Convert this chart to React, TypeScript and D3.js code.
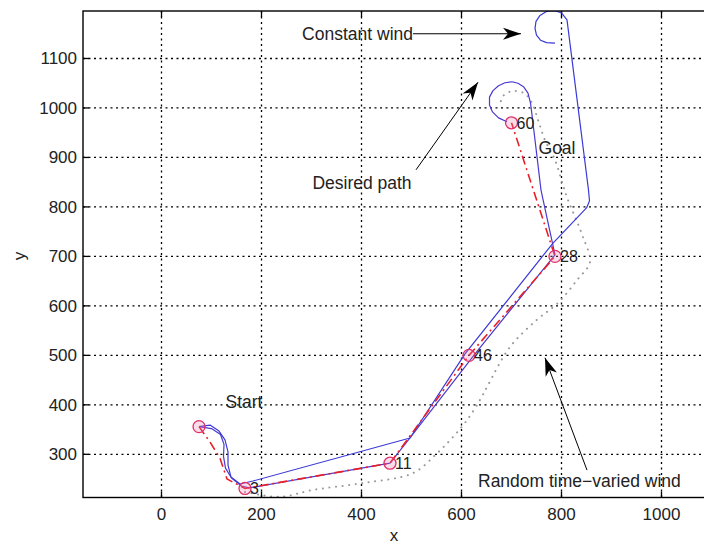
import React from 'react';
import * as d3 from 'd3';

const W = 704;
const H = 544;
const X_DOMAIN: [number, number] = [-157, 1089];
const Y_DOMAIN: [number, number] = [212.7, 1196];
const xTicks = [0, 200, 400, 600, 800, 1000];
const yTicks = [300, 400, 500, 600, 700, 800, 900, 1000, 1100];

// desired path (red dash-dot)
const desiredX = [75, 97, 117, 131, 167, 457, 615, 787, 700];
const desiredY = [356, 325, 292, 250, 231, 282, 500, 700, 970];

// waypoints
const waypointX = [75, 167, 457, 615, 787, 700];
const waypointY = [356, 231, 282, 500, 700, 970];
const waypointLabels = ['', '3', '11', '46', '28', '60'];

// constant wind trajectory (blue)
const constWindX = [75, 97, 115, 127, 133, 133, 139, 157, 183, 497, 607, 783, 850, 856, 854, 811, 800, 786, 770, 757, 749, 747, 750, 758, 770, 787];
const constWindY = [356, 359, 347, 329, 305, 278, 254, 240, 246, 333, 503, 727, 798, 812, 834, 1178, 1192, 1197, 1195, 1187, 1175, 1161, 1147, 1137, 1132, 1131];

// trajectory following desired path (blue)
const trackX = [75, 100, 118, 125, 124, 128, 140, 160, 175, 457, 497, 627, 787, 759, 741, 738, 733, 724, 713, 701, 687, 674, 663, 656, 656, 662, 674, 691];
const trackY = [356, 352, 340, 320, 296, 272, 252, 236, 232, 282, 333, 503, 703, 834, 986, 1010, 1030, 1043, 1050, 1053, 1051, 1045, 1035, 1022, 1006, 992, 980, 972];

// random time-varied wind trajectory (gray dotted)
const randWindX = [167, 237, 303, 403, 503, 551, 583, 611, 637, 653, 697, 751, 793, 831, 857, 843, 827, 813, 803, 787, 767, 753, 741, 725, 701, 683, 677];
const randWindY = [224, 214, 228, 242, 262, 302, 335, 369, 410, 440, 517, 572, 606, 652, 689, 739, 780, 814, 844, 895, 935, 976, 1010, 1030, 1034, 1024, 1006];

const FONT = '"Liberation Sans", Arial, Helvetica, sans-serif';

function zip(xs: number[], ys: number[]): [number, number][] {
  return xs.map((x, i) => [x, ys[i]] as [number, number]);
}

function arrowHead(tx: number, ty: number, fx: number, fy: number) {
  const ang = Math.atan2(ty - fy, tx - fx);
  const L = 18, hw = 6, notch = 5;
  const c = Math.cos(ang), s = Math.sin(ang);
  const bx = tx - L * c, by = ty - L * s;
  const p1 = [bx - hw * s, by + hw * c];
  const p2 = [bx + hw * s, by - hw * c];
  const n = [tx - (L - notch) * c, ty - (L - notch) * s];
  return `M${tx},${ty}L${p1[0]},${p1[1]}L${n[0]},${n[1]}L${p2[0]},${p2[1]}Z`;
}

export default function App() {
  const left = 83, right = 706, top = 11, bottom = 497.5;
  const x = d3.scaleLinear().domain(X_DOMAIN).range([left, right]);
  const y = d3.scaleLinear().domain(Y_DOMAIN).range([bottom, top]);
  const line = d3.line<[number, number]>().x(d => x(d[0])).y(d => y(d[1]));
  const smooth = d3.line<[number, number]>().x(d => x(d[0])).y(d => y(d[1])).curve(d3.curveCatmullRom.alpha(0.5));

  const arrows = [
    { from: [503, 1150], to: [719, 1150] },
    { from: [509, 875], to: [633, 1052] },
    { from: [851, 268], to: [767, 495] },
  ];

  return (
    <svg width={W} height={H} style={{ position: 'absolute', left: 0, top: 0, background: '#fff' }} fontFamily={FONT}>
      <defs>
        <clipPath id="plotclip">
          <rect x={left} y={top} width={right - left} height={bottom - top} />
        </clipPath>
      </defs>
      <rect x={0} y={0} width={W} height={H} fill="#fff" />
      {/* grid */}
      {xTicks.map(t => (
        <line key={'gx' + t} x1={x(t)} x2={x(t)} y1={top} y2={bottom} stroke="#000" strokeWidth={1.3} strokeDasharray="2,3.5" />
      ))}
      {yTicks.map(t => (
        <line key={'gy' + t} x1={left} x2={right} y1={y(t)} y2={y(t)} stroke="#000" strokeWidth={1.3} strokeDasharray="2,3.5" />
      ))}
      {/* ticks */}
      {xTicks.map(t => (
        <g key={'tx' + t}>
          <line x1={x(t)} x2={x(t)} y1={bottom} y2={bottom - 6} stroke="#000" strokeWidth={1.3} />
          <line x1={x(t)} x2={x(t)} y1={top} y2={top + 6} stroke="#000" strokeWidth={1.3} />
          <text x={x(t)} y={bottom + 22} textAnchor="middle" fontSize={17} fill="#222">{t}</text>
        </g>
      ))}
      {yTicks.map(t => (
        <g key={'ty' + t}>
          <line x1={left} x2={left + 6} y1={y(t)} y2={y(t)} stroke="#000" strokeWidth={1.3} />
          <text x={left - 6} y={y(t) + 6} textAnchor="end" fontSize={17} fill="#222">{t}</text>
        </g>
      ))}
      {/* data */}
      <g clipPath="url(#plotclip)">
        <path d={smooth(zip(randWindX, randWindY)) || ''} fill="none" stroke="#999" strokeWidth={2} strokeDasharray="0.1,6.5" strokeLinecap="round" />
        <path d={line(zip(constWindX, constWindY)) || ''} fill="none" stroke="#3a3ad8" strokeWidth={1.2} strokeLinejoin="round" />
        <path d={line(zip(trackX, trackY)) || ''} fill="none" stroke="#4a3ad0" strokeWidth={1.2} strokeLinejoin="round" />
        <path d={line(zip(desiredX, desiredY)) || ''} fill="none" stroke="#e8202a" strokeWidth={1.6} strokeDasharray="9,4,2,4" />
        {waypointX.map((wx, i) => (
          <circle key={'wp' + i} cx={x(wx)} cy={y(waypointY[i])} r={6} fill="rgba(240,120,170,0.25)" stroke="#e0306a" strokeWidth={1.3} />
        ))}
      </g>
      {waypointX.map((wx, i) => (
        <text key={'wl' + i} x={x(wx) + 5} y={y(waypointY[i]) + 6} fontSize={16} fill="#222">{waypointLabels[i]}</text>
      ))}
      {/* axes box */}
      <rect x={left} y={top} width={right - left} height={bottom - top} fill="none" stroke="#000" strokeWidth={1.4} />
      {/* annotations */}
      {arrows.map((a, i) => (
        <g key={'ar' + i}>
          <line x1={x(a.from[0])} y1={y(a.from[1])} x2={x(a.to[0])} y2={y(a.to[1])} stroke="#000" strokeWidth={1} />
          <path d={arrowHead(x(a.to[0]), y(a.to[1]), x(a.from[0]), y(a.from[1]))} fill="#000" />
        </g>
      ))}
      <text x={x(503)} y={y(1150) + 6} textAnchor="end" fontSize={17.5} fill="#222">Constant wind</text>
      <text x={x(401)} y={y(848) + 6} textAnchor="middle" fontSize={17.5} fill="#222">Desired path</text>
      <text x={x(633)} y={y(246) + 6} textAnchor="start" fontSize={17.5} fill="#222">Random time−varied wind</text>
      <text x={x(165)} y={y(406) + 6} textAnchor="middle" fontSize={17.5} fill="#222">Start</text>
      <text x={x(791)} y={y(919) + 6} textAnchor="middle" fontSize={17.5} fill="#222">Goal</text>
      {/* axis labels */}
      <text x={394} y={541} textAnchor="middle" fontSize={17} fill="#222">x</text>
      <text transform={`translate(25,256) rotate(-90)`} textAnchor="middle" fontSize={17} fill="#222">y</text>
    </svg>
  );
}
